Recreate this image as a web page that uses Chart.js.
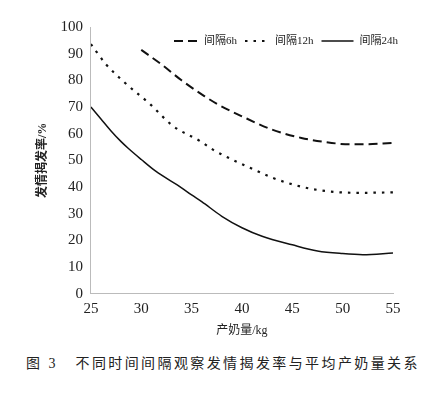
<!DOCTYPE html>
<html>
<head>
<meta charset="utf-8">
<script src="https://cdn.jsdelivr.net/npm/chart.js@4"></script>
<style>
    body { margin: 0; background: #fff; }
    .page { position: relative; width: 438px; height: 399px; }
    .chart-box { position: absolute; left: 0; top: 0; width: 438px; height: 340px; }
    .caption {
        position: absolute; left: 8px; top: 352px; width: 430px; text-align: center;
        font-family: "Liberation Serif", "Noto Sans CJK SC", serif;
        font-size: 14px; letter-spacing: 2.4px; color: #222;
    }
</style>
</head>
<body>
<div class="page">
    <div class="chart-box"><canvas id="chart"></canvas></div>
    <div class="caption">图 3&nbsp;&nbsp;&nbsp;不同时间间隔观察发情揭发率与平均产奶量关系</div>
</div>
<script>
// Milk yield (kg) and detection rate (%)
const yield6h = [30, 32, 34, 36.3, 37.6, 40, 43, 45.9, 48, 50.7, 52, 55];
const rate6h = [91.4, 86, 80, 74, 71, 66.5, 61.5, 58.4, 57, 56, 56, 56.5];

const yield12h = [25, 26.5, 28.4, 30.9, 33.1, 35.8, 37.3, 40.8, 43, 45, 47, 49.7, 52, 55];
const rate12h = [93.6, 86, 79, 71, 63, 57.3, 53.6, 47.2, 43.5, 41, 39.2, 38, 37.8, 38];

const yield24h = [25, 26, 27, 28, 28.7, 30, 31.4, 34, 35, 36, 38, 40, 42, 45, 47.5, 50, 52, 55];
const rate24h = [70, 65.5, 61, 57, 54.5, 50.3, 46, 39.7, 37, 34.5, 29, 24.7, 21.5, 18.3, 16, 15, 14.6, 15.2];

const seriesNames = ['间隔6h', '间隔12h', '间隔24h'];

const serif = "'Liberation Serif', 'Noto Sans CJK SC', serif";
const ink = '#111';

function toPoints(xs, ys) {
    return xs.map((x, i) => ({ x: x, y: ys[i] }));
}

function lineSet(label, xs, ys, dash, width) {
    return {
        label: label,
        data: toPoints(xs, ys),
        borderColor: ink,
        backgroundColor: ink,
        borderWidth: width,
        borderDash: dash,
        pointRadius: 0,
        fill: false,
        cubicInterpolationMode: 'monotone'
    };
}

// Legend drawn in one row inside the top-right of the plot
const inlineLegend = {
    id: 'inlineLegend',
    afterDraw(chart) {
        const ctx = chart.ctx;
        const area = chart.chartArea;
        const y = area.top + 14;
        const sampleW = [24, 24, 32];
        const gap = 6;
        const itemGap = 8;
        ctx.save();
        ctx.font = "11px " + serif;
        ctx.textBaseline = 'middle';
        // measure from the right edge backwards
        const items = chart.data.datasets.map((ds, i) => ({
            ds: ds,
            w: sampleW[i],
            tw: ctx.measureText(ds.label).width
        }));
        let total = 0;
        items.forEach((it, i) => { total += it.w + gap + it.tw + (i < items.length - 1 ? itemGap : 0); });
        let x = area.right + 5 - total;
        items.forEach(it => {
            ctx.strokeStyle = ink;
            ctx.lineWidth = it.ds.borderWidth;
            ctx.setLineDash(it.ds.borderDash);
            ctx.beginPath();
            ctx.moveTo(x, y);
            ctx.lineTo(x + it.w, y);
            ctx.stroke();
            x += it.w + gap;
            ctx.setLineDash([]);
            ctx.fillStyle = '#222';
            ctx.fillText(it.ds.label, x, y);
            x += it.tw + itemGap;
        });
        ctx.restore();
    }
};

new Chart(document.getElementById('chart'), {
    type: 'line',
    data: {
        datasets: [
            lineSet(seriesNames[0], yield6h, rate6h, [9, 5], 2),
            lineSet(seriesNames[1], yield12h, rate12h, [2.5, 6], 2.2),
            lineSet(seriesNames[2], yield24h, rate24h, [], 1.5)
        ]
    },
    options: {
        responsive: true,
        maintainAspectRatio: false,
        animation: false,
        layout: { padding: { left: 36, right: 45, top: 27, bottom: 2 } },
        plugins: {
            legend: { display: false },
            tooltip: { enabled: false }
        },
        scales: {
            x: {
                type: 'linear',
                min: 25,
                max: 55,
                ticks: { stepSize: 5, color: '#222', padding: 6, font: { family: serif, size: 15 } },
                grid: { drawOnChartArea: false, tickLength: 0 },
                border: { color: '#bbb', width: 1 },
                title: {
                    display: true,
                    text: '产奶量/kg',
                    color: '#222',
                    padding: { top: 0, bottom: 0 },
                    font: { family: serif, size: 12 }
                }
            },
            y: {
                min: 0,
                max: 100,
                ticks: { stepSize: 10, color: '#222', padding: 8, font: { family: serif, size: 15 } },
                grid: { drawOnChartArea: false, tickLength: 0 },
                border: { color: '#bbb', width: 1 },
                title: {
                    display: true,
                    text: '发情揭发率/%',
                    color: '#222',
                    padding: { top: 0, bottom: 2 },
                    font: { family: serif, size: 12, weight: 'bold' }
                }
            }
        }
    },
    plugins: [inlineLegend]
});
</script>
</body>
</html>
